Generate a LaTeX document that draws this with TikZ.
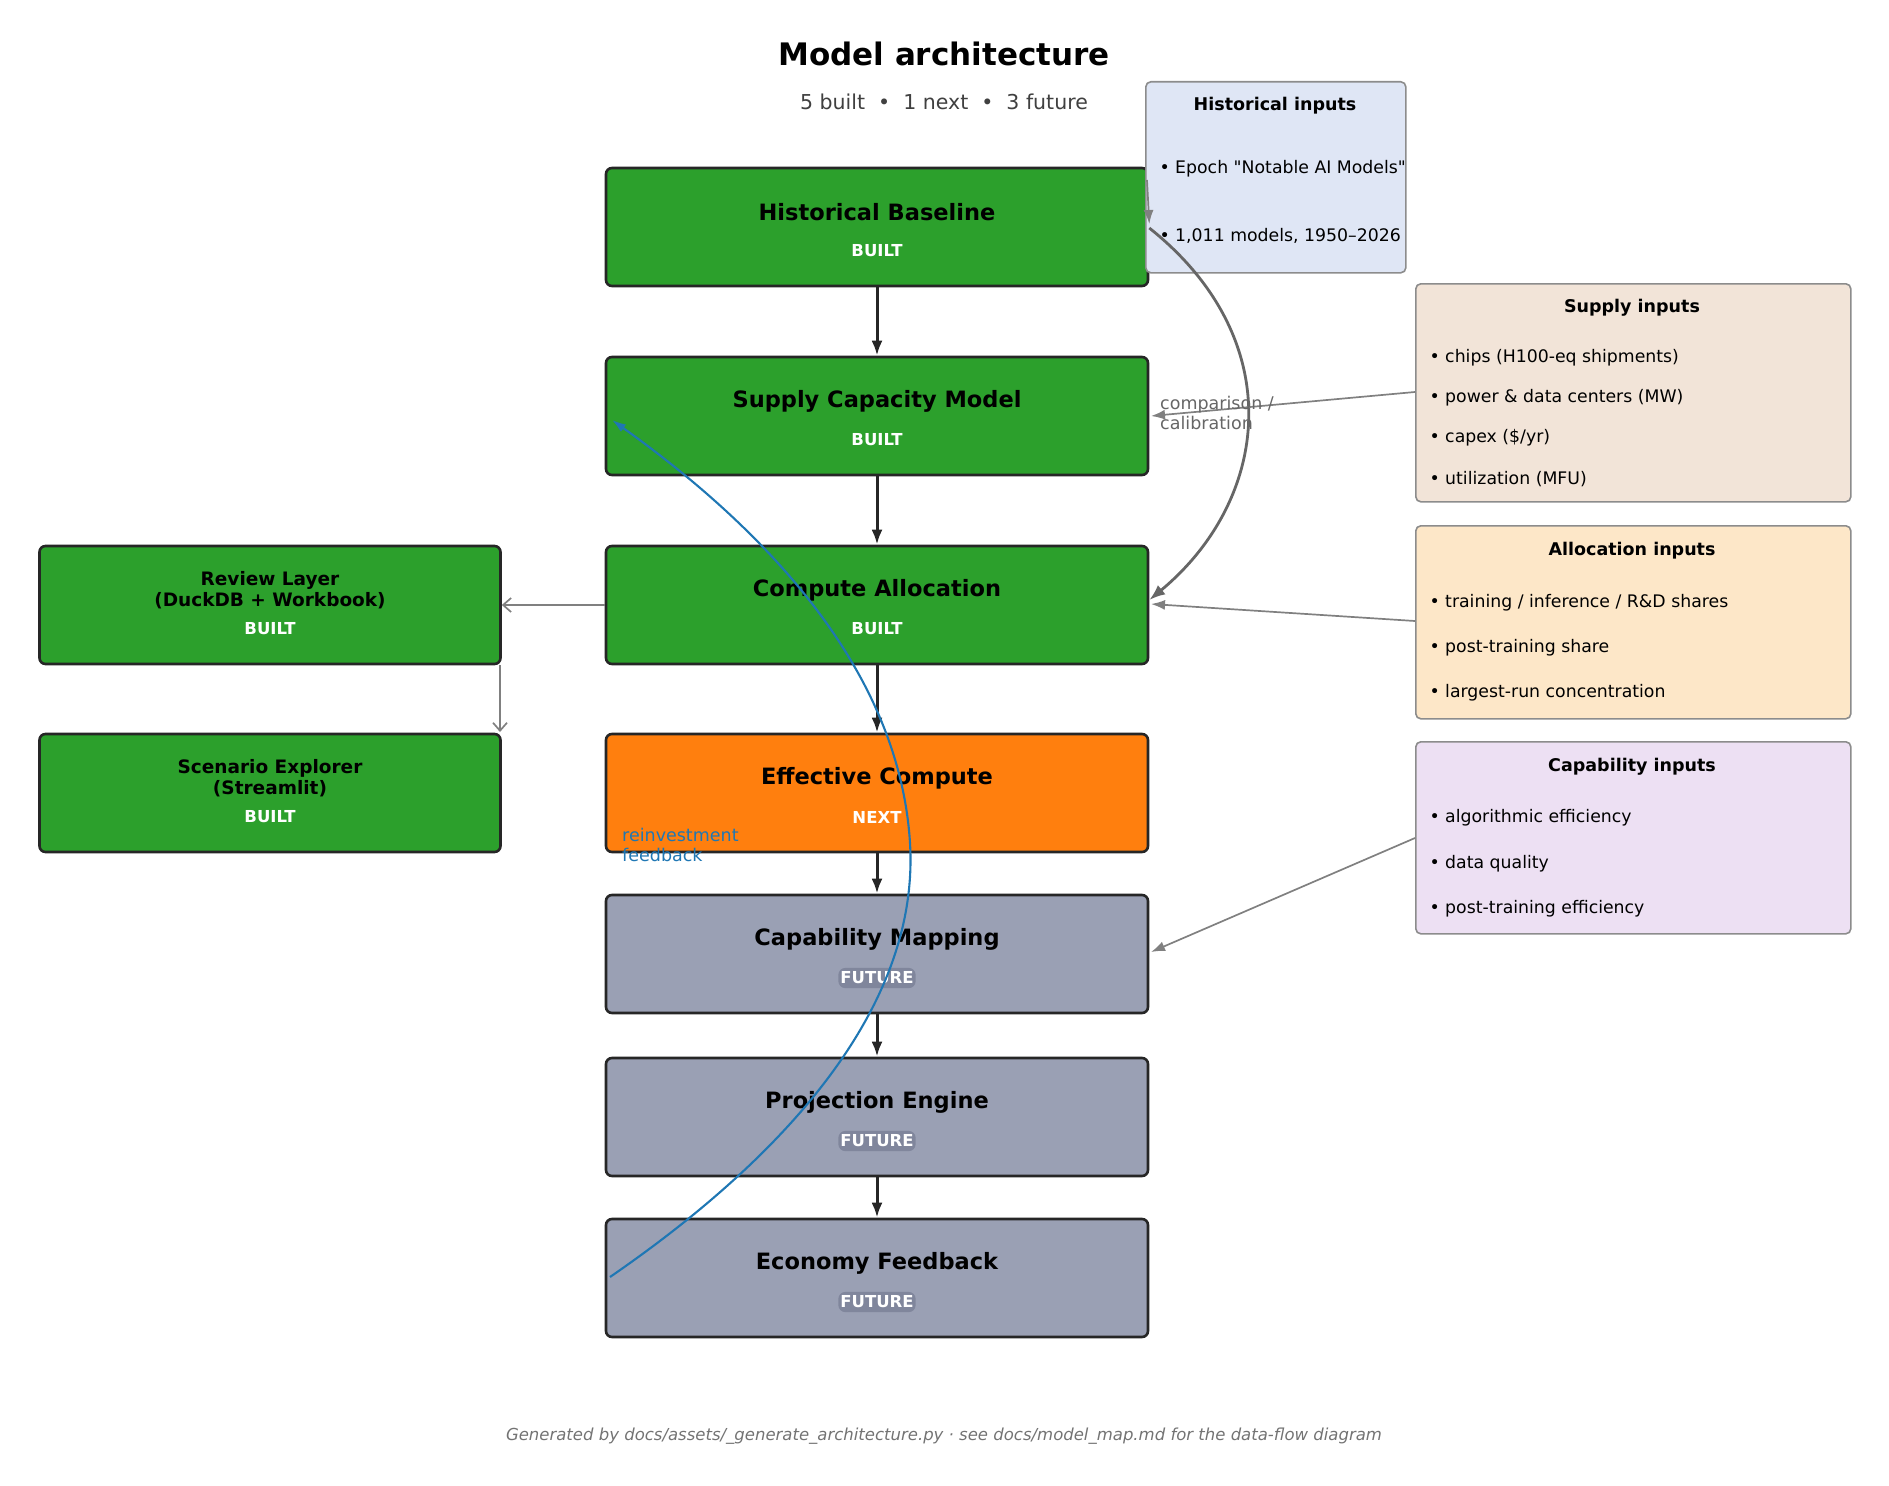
\documentclass[tikz,border=0pt]{standalone}
\usepackage{fontspec}
\setmainfont{DejaVu Sans}
\newfontfamily\rawf{DejaVu Sans}[Ligatures=ResetAll]
\usetikzlibrary{arrows.meta}
\definecolor{cgreen}{HTML}{2CA02C}
\definecolor{corange}{HTML}{FF7F0E}
\definecolor{cgray}{HTML}{9AA0B4}
\definecolor{cbadge}{HTML}{80869C}
\definecolor{chist}{HTML}{DFE6F5}
\definecolor{csup}{HTML}{F2E4D8}
\definecolor{calloc}{HTML}{FDE7C8}
\definecolor{ccap}{HTML}{EDE0F3}
\definecolor{cblue}{HTML}{1F77B4}
\begin{document}
\begin{tikzpicture}[x=1pt,y=-1pt,
  stage/.style={draw=black!85,line width=2.6pt,rounded corners=6pt,minimum width=542pt,minimum height=118pt},
  side/.style={draw=black!85,line width=2.6pt,rounded corners=6pt,minimum width=461pt,minimum height=118pt},
  inp/.style={draw=black!45,line width=1.6pt,rounded corners=5pt,anchor=north west},
  ttl/.style={font=\bfseries\fontsize{22.5}{26}\selectfont,align=center},
  stl/.style={font=\bfseries\fontsize{18.5}{21}\selectfont,align=center},
  tag/.style={font=\bfseries\fontsize{16.5}{19}\selectfont,text=white},
  badge/.style={tag,fill=cbadge,rounded corners=7pt,inner xsep=2pt,inner ysep=4pt,minimum width=74pt},
  main/.style={-{Latex[length=15pt,width=11pt]},line width=3pt,draw=black!85},
  garr/.style={-{Latex[length=14pt,width=10pt]},line width=1.7pt,draw=black!50},
  gopen/.style={-{Straight Barb[length=8pt,width=14pt]},line width=1.7pt,draw=black!50},
  ihead/.style={font=\bfseries\fontsize{17.5}{20}\selectfont},
  bul/.style={font=\fontsize{17.3}{20}\selectfont,anchor=west}]
\useasboundingbox (0,0) rectangle (1889,1485);
\node[font=\bfseries\fontsize{31}{34}\selectfont] (title) at (944,54) {Model architecture};
\node[font=\fontsize{20.5}{24}\selectfont,text=black!75] (sub) at (944,102) {5 built \ \textbullet\ \ 1 next \ \textbullet\ \ 3 future};
% stages
\node[stage,fill=cgreen] (hb) at (877,227) {};
\node[stage,fill=cgreen] (sc) at (877,416) {};
\node[stage,fill=cgreen] (ca) at (877,605) {};
\node[stage,fill=corange] (ec) at (877,793) {};
\node[stage,fill=cgray] (cm) at (877,954) {};
\node[stage,fill=cgray] (pe) at (877,1117) {};
\node[stage,fill=cgray] (ef) at (877,1278) {};
\foreach \n/\t in {hb/Historical Baseline,sc/Supply Capacity Model,ca/Compute Allocation,ec/Effective Compute,cm/Capability Mapping,pe/Projection Engine,ef/Economy Feedback}{
  \node[ttl] (\n-t) at ([yshift=15pt]\n.center) {\t};}
\node[tag] (hb-b) at ([yshift=-24pt]hb.center) {BUILT};
\node[tag] (sc-b) at ([yshift=-24pt]sc.center) {BUILT};
\node[tag] (ca-b) at ([yshift=-24pt]ca.center) {BUILT};
\node[tag] (ec-b) at ([yshift=-24pt]ec.center) {NEXT};
\node[badge] (cm-b) at ([yshift=-24pt]cm.center) {FUTURE};
\node[badge] (pe-b) at ([yshift=-24pt]pe.center) {FUTURE};
\node[badge] (ef-b) at ([yshift=-24pt]ef.center) {FUTURE};
% side
\node[side,fill=cgreen] (rl) at (270,605) {};
\node[side,fill=cgreen] (se) at (270,793) {};
\node[stl] (rl-t) at ([yshift=15pt]rl.center) {Review Layer\\(DuckDB + Workbook)};
\node[tag] (rl-b) at ([yshift=-24pt]rl.center) {BUILT};
\node[stl] (se-t) at ([yshift=15pt]se.center) {Scenario Explorer\\(Streamlit)};
\node[tag] (se-b) at ([yshift=-24pt]se.center) {BUILT};
% inputs
\node[inp,fill=chist,minimum width=260pt,minimum height=191pt] (hin) at (1145,81) {};
\node[ihead] (hin-t) at (1275,106) {Historical inputs};
\node[bul] (hin-1) at (1156,169) {\textbullet\ Epoch {\rawf"Notable AI Models"}};
\node[bul] (hin-2) at (1156,236) {\textbullet\ 1,011 models, 1950–2026};
\node[inp,fill=csup,minimum width=435pt,minimum height=218pt] (sin) at (1415,283) {};
\node[ihead] (sin-t) at (1632,308) {Supply inputs};
\node[bul] (sin-1) at (1426,358) {\textbullet\ chips (H100-eq shipments)};
\node[bul] (sin-2) at (1426,398) {\textbullet\ power \& data centers (MW)};
\node[bul] (sin-3) at (1426,438) {\textbullet\ capex (\$/yr)};
\node[bul] (sin-4) at (1426,479) {\textbullet\ utilization (MFU)};
\node[inp,fill=calloc,minimum width=435pt,minimum height=193pt] (ain) at (1415,525) {};
\node[ihead] (ain-t) at (1632,551) {Allocation inputs};
\node[bul] (ain-1) at (1426,603) {\textbullet\ training / inference / R\&D shares};
\node[bul] (ain-2) at (1426,648) {\textbullet\ post-training share};
\node[bul] (ain-3) at (1426,693) {\textbullet\ largest-run concentration};
\node[inp,fill=ccap,minimum width=435pt,minimum height=192pt] (cin) at (1415,741) {};
\node[ihead] (cin-t) at (1632,767) {Capability inputs};
\node[bul] (cin-1) at (1426,818) {\textbullet\ algorithmic efficiency};
\node[bul] (cin-2) at (1426,864) {\textbullet\ data quality};
\node[bul] (cin-3) at (1426,909) {\textbullet\ post-training efficiency};
% main arrows
\draw[main] (hb) -- (sc);
\draw[main] (sc) -- (ca);
\draw[main] (ca) -- (ec);
\draw[main] (ec) -- (cm);
\draw[main] (cm) -- (pe);
\draw[main] (pe) -- (ef);
% side arrows
\draw[gopen] (ca.west) -- (rl.east);
\coordinate (rs) at (500,665);
\coordinate (re) at (500,732);
\draw[gopen] (rs) -- (re);
\coordinate (hs) at (1147,180);
\draw[garr] (hs) -- (hb.east |- 0,224);
\draw[-{Latex[length=16pt,width=12pt]},line width=2.8pt,draw=black!60] (hb.east |- 0,228) .. controls (1290,340) and (1270,500) .. (ca.east |- 0,600);
\draw[garr] (sin.west |- 0,392) -- (1151,416);
\node[font=\fontsize{17.5}{20}\selectfont,text=black!60,align=left,anchor=north west,inner sep=0pt] (cal) at (1160,396) {comparison /\\calibration};
\draw[garr] (ain.west |- 0,621) -- (1151,604);
\draw[garr] (cin.west |- 0,838) -- (1151,952);
% feedback
\draw[-{Latex[length=14pt,width=9pt]},line width=2.1pt,draw=cblue] (610,1277) .. controls (780,1160) and (920,1010) .. (910,843) .. controls (900,680) and (780,540) .. (612,420);
\node[font=\fontsize{17.5}{20}\selectfont,text=cblue,align=left,anchor=north west,inner sep=0pt] (rf) at (622,828) {reinvestment\\feedback};
\node[font=\itshape\fontsize{16.5}{19}\selectfont,text=black!55] (foot) at (944,1436) {Generated by docs/assets/\_generate\_architecture.py · see docs/model\_map.md for the data-flow diagram};
\end{tikzpicture}
\end{document}
